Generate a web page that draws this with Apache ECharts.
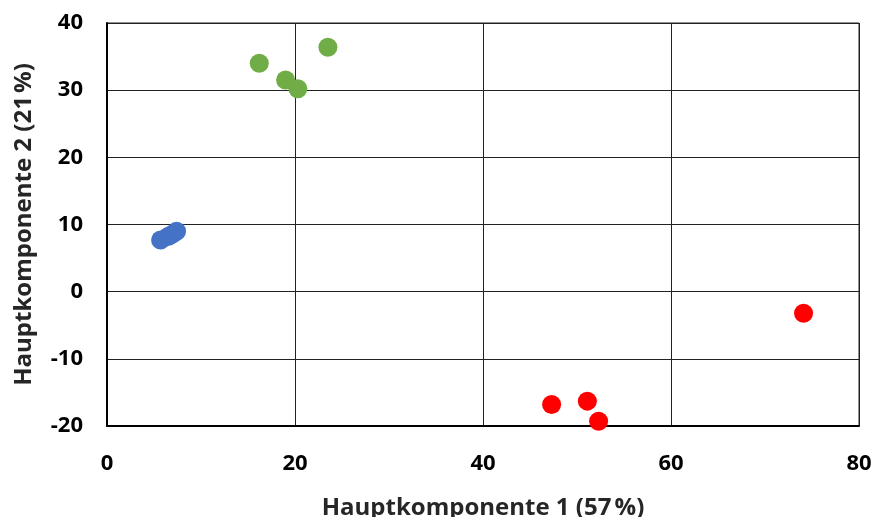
<!DOCTYPE html>
<html><head><meta charset="utf-8">
<script src="https://cdn.jsdelivr.net/npm/echarts@6/dist/echarts.min.js"></script>
<style>html,body{margin:0;padding:0;background:#fff}#c{width:877px;height:517px}</style>
</head><body><div id="c"></div>
<script>
const blueX = [5.7, 6.5, 7.0, 7.4];
const blueY = [7.7, 8.2, 8.6, 9.0];
const greenX = [16.2, 19.0, 20.3, 23.5];
const greenY = [34.0, 31.5, 30.2, 36.4];
const redX = [47.3, 51.1, 52.3, 74.1];
const redY = [-16.8, -16.3, -19.3, -3.2];
const xTitle = 'Hauptkomponente 1 (57\u202F%)';
const yTitle = 'Hauptkomponente 2 (21\u202F%)';

const zip = (a, b) => a.map((v, i) => [v, b[i]]);
const font = '"Open Sans", "Noto Sans", sans-serif';
const chart = echarts.init(document.getElementById('c'));
const ser = (x, y, c) => ({type: 'scatter', data: zip(x, y), symbolSize: 19, itemStyle: {color: c, opacity: 1}});
chart.setOption({
  animation: false,
  grid: {left: 107, top: 23, right: 18, bottom: 91, containLabel: false, outerBoundsMode: 'none', show: true, borderColor: '#222', borderWidth: 1},
  xAxis: {
    type: 'value', min: 0, max: 80, interval: 20,
    name: xTitle, nameLocation: 'middle', nameGap: 70,
    nameTextStyle: {fontFamily: font, fontWeight: 'bold', fontSize: 24, color: '#262626'},
    axisLine: {show: true, onZero: false, lineStyle: {color: '#000', width: 2}},
    axisTick: {show: false},
    axisLabel: {fontFamily: font, fontWeight: 'bold', fontSize: 22, color: '#000', margin: 27},
    splitLine: {show: true, lineStyle: {color: '#222', width: 1}}
  },
  yAxis: {
    type: 'value', min: -20, max: 40, interval: 10,
    name: yTitle, nameLocation: 'middle', nameGap: 71,
    nameTextStyle: {fontFamily: font, fontWeight: 'bold', fontSize: 24, color: '#262626'},
    axisLine: {show: true, onZero: false, lineStyle: {color: '#000', width: 2}},
    axisTick: {show: false},
    axisLabel: {fontFamily: font, fontWeight: 'bold', fontSize: 22, color: '#000', margin: 24},
    splitLine: {show: true, lineStyle: {color: '#222', width: 1}}
  },
  series: [ser(blueX, blueY, '#4472C4'), ser(greenX, greenY, '#70AD47'), ser(redX, redY, '#FF0000')]
});
</script></body></html>
